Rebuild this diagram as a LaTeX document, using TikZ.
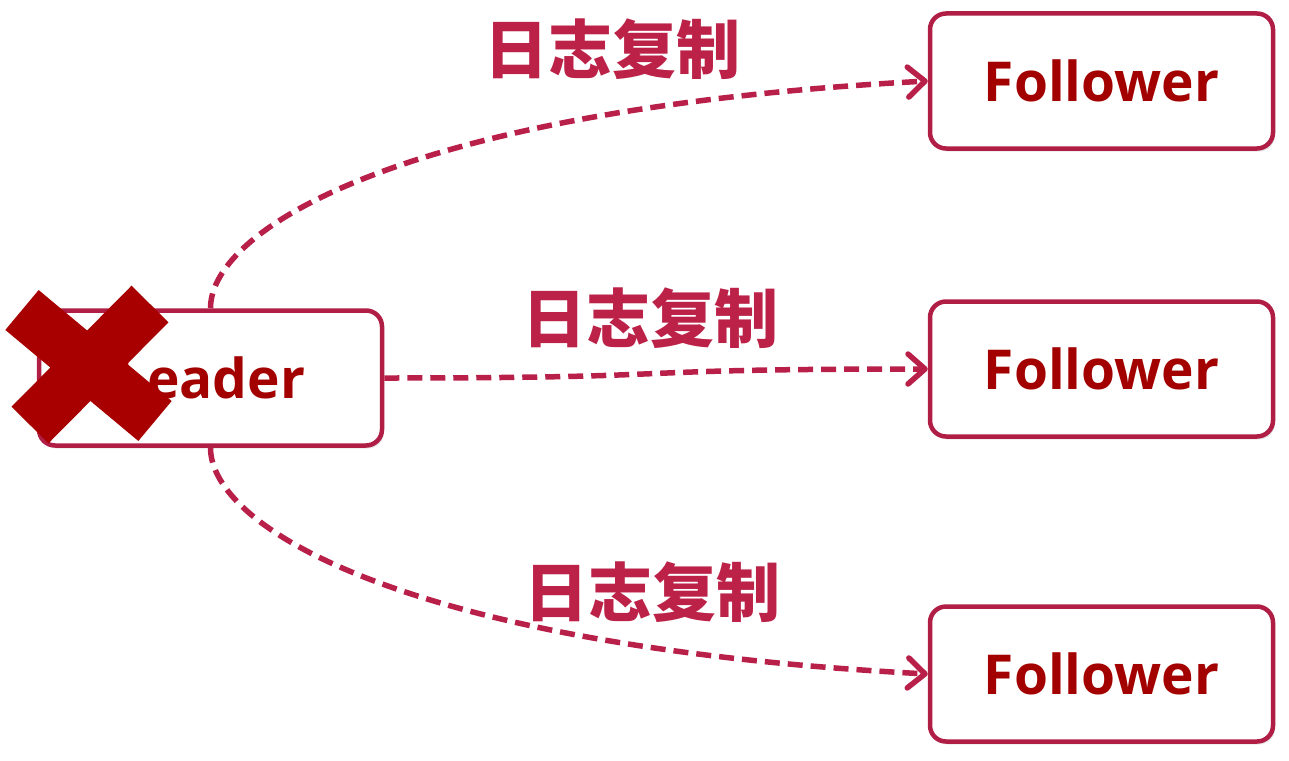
\documentclass[tikz,border=0pt]{standalone}
\usepackage{fontspec}
\setmainfont{Open Sans}
\newfontfamily\cjk{Noto Sans CJK SC}
\usetikzlibrary{arrows.meta,shadows}
\definecolor{boxred}{HTML}{B01E46}
\definecolor{txtred}{HTML}{A30000}
\definecolor{lblred}{HTML}{BC2148}
\definecolor{linkred}{HTML}{B8204A}
\definecolor{crossred}{HTML}{A80000}

\begin{document}
\begin{tikzpicture}[x=1pt,y=-1pt,
    box/.style={draw=boxred,line width=4.5pt,rounded corners=16pt,fill=white,
      minimum width=343pt,minimum height=135pt,text=txtred,
      font=\bfseries\fontsize{55}{55}\selectfont,
      drop shadow={shadow xshift=2pt,shadow yshift=-3pt,opacity=.2}},
    lbl/.style={text=lblred,font=\cjk\bfseries\fontsize{64}{64}\selectfont,inner sep=0pt},
    link/.style={draw=linkred,line width=5.5pt,dash pattern=on 15pt off 8pt,
      -{Straight Barb[length=17pt,width=30pt,round]}}]
  \useasboundingbox (0,0) rectangle (1289,760);
      \draw
        (210.5,378) node[box] (0){Leader}
        (1101.5,81) node[box] (1){Follower}
        (1101.5,369) node[box] (2){Follower}
        (1101.5,674) node[box] (3){Follower};
      \begin{scope}[link]
        \draw (0.north) .. controls +(0,-79) and +(-525,28) .. (1.west);
        \draw (0.east) .. controls +(330,0) and +(-330,0) .. (2.west);
        \draw (0.south) .. controls +(0,79) and +(-525,-28) .. (3.west);
      \end{scope}
      \draw
        (612,49) node[lbl] (a){日志复制}
        (650,318) node[lbl] (b){日志复制}
        (652,592) node[lbl] (c){日志复制};
      % cross over the leader
      \draw[crossred,line width=52pt] (22,310) -- (155,421) (150,304) -- (30,425);
\end{tikzpicture}
\end{document}
